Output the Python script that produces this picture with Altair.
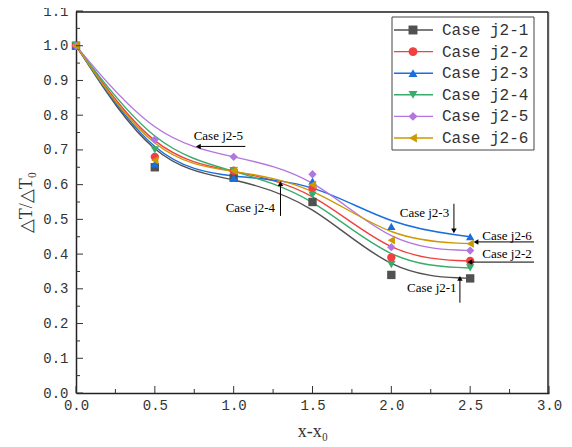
import altair as alt
import pandas as pd

# ---- data ----
x_vals = [0.0, 0.5, 1.0, 1.5, 2.0, 2.5]
series_names = ["Case j2-1", "Case j2-2", "Case j2-3", "Case j2-4", "Case j2-5", "Case j2-6"]
j2_1 = [1.0, 0.65, 0.62, 0.55, 0.34, 0.33]
j2_2 = [1.0, 0.68, 0.64, 0.59, 0.39, 0.38]
j2_3 = [1.0, 0.66, 0.62, 0.61, 0.48, 0.45]
j2_4 = [1.0, 0.70, 0.64, 0.57, 0.37, 0.36]
j2_5 = [1.0, 0.73, 0.68, 0.63, 0.42, 0.41]
j2_6 = [1.0, 0.67, 0.64, 0.60, 0.44, 0.43]
all_series = [j2_1, j2_2, j2_3, j2_4, j2_5, j2_6]

colors = ["#515151", "#F14040", "#1A6FDF", "#37AD6B", "#B177DE", "#CC9900"]
shapes = ["square", "circle", "triangle-up", "triangle-down", "diamond", "triangle-left"]

# annotations
ann_text = ["Case j2-5", "Case j2-4", "Case j2-3", "Case j2-6", "Case j2-2", "Case j2-1"]
ann_tx = [0.903, 1.106, 2.21, 2.734, 2.734, 2.257]
ann_ty = [0.739, 0.533, 0.519, 0.452, 0.400, 0.301]
arr_x1 = [1.074, 1.297, 2.397, 2.905, 2.905, 2.435]
arr_y1 = [0.710, 0.510, 0.545, 0.435, 0.377, 0.260]
arr_x2 = [0.776, 1.297, 2.397, 2.537, 2.498, 2.435]
arr_y2 = [0.710, 0.603, 0.467, 0.435, 0.377, 0.330]
arr_head = ["triangle-left", "triangle-up", "triangle-down", "triangle-left", "triangle-left", "triangle-up"]

x_major = [0, 0.5, 1.0, 1.5, 2.0, 2.5, 3.0]
x_minor = [0.25, 0.75, 1.25, 1.75, 2.25, 2.75]
y_major = [round(0.1 * i, 2) for i in range(12)]
y_minor = [round(0.05 + 0.1 * i, 2) for i in range(11)]

rows = []
for name, vals in zip(series_names, all_series):
    for xv, yv in zip(x_vals, vals):
        rows.append({"series": name, "x": xv, "y": yv})
df = pd.DataFrame(rows)
ann = pd.DataFrame({"text": ann_text, "tx": ann_tx, "ty": ann_ty,
                    "x1": arr_x1, "y1": arr_y1, "x2": arr_x2, "y2": arr_y2, "head": arr_head})
leg = pd.DataFrame({"series": series_names})

W, H = 473, 382
TICK_FONT = "Liberation Mono"
AXC = "#333333"
FRC = "#222222"

xs = alt.Scale(domain=[0, 3], nice=False)
ys = alt.Scale(domain=[0, 1.1], nice=False)
cs = alt.Scale(domain=series_names, range=colors)
ss = alt.Scale(domain=series_names, range=shapes)

xaxis = alt.Axis(values=x_major, format=".1f", title="x-x₀", grid=False, ticks=False,
                 domain=True, domainColor=FRC, domainWidth=1.5,
                 labelOverlap=False, labelFlush=False,
                 labelFont=TICK_FONT, labelFontSize=14, labelColor=AXC, labelPadding=5,
                 titleFont="Liberation Serif", titleFontSize=18, titleFontWeight="normal",
                 titleColor=AXC, titlePadding=10)
yaxis = alt.Axis(values=y_major, format=".1f", title="△T/△T₀", grid=False, ticks=False,
                 domain=True, domainColor=FRC, domainWidth=1.5,
                 labelOverlap=False, labelFlush=False,
                 labelFont=TICK_FONT, labelFontSize=14, labelColor=AXC, labelPadding=8,
                 titleFont="Liberation Serif", titleFontSize=18, titleFontWeight="normal",
                 titleColor=AXC, titlePadding=7)

def X(field):
    return alt.X(field, type="quantitative", scale=xs, axis=xaxis)

def Y(field):
    return alt.Y(field, type="quantitative", scale=ys, axis=yaxis)

base = alt.Chart(df)
lines = base.mark_line(interpolate="basis", strokeWidth=1.4).encode(
    x=X("x"), y=Y("y"),
    color=alt.Color("series:N", scale=cs, legend=None),
    detail="series:N",
)
points = base.mark_point(filled=True, size=70, opacity=1).encode(
    x=X("x"), y=Y("y"),
    color=alt.Color("series:N", scale=cs, legend=None),
    shape=alt.Shape("series:N", scale=ss, legend=None),
    order=alt.Order("series:N"),
)

abase = alt.Chart(ann)
arrow_lines = abase.mark_rule(color="black", strokeWidth=1).encode(
    x=X("x1"), y=Y("y1"), x2="x2:Q", y2="y2:Q")
arrow_heads = abase.mark_point(filled=True, color="black", size=30, opacity=1).encode(
    x=X("x2"), y=Y("y2"), shape=alt.Shape("head:N", scale=None, legend=None))
ann_labels = abase.mark_text(font="Liberation Serif", fontSize=13, color="black").encode(
    x=X("tx"), y=Y("ty"), text="text:N")

def xticks(vals, length):
    return alt.Chart(pd.DataFrame({"t": vals})).mark_rule(color=AXC, strokeWidth=1).encode(
        x=X("t"), y=alt.value(H), y2=alt.value(H - length))

def yticks(vals, length):
    return alt.Chart(pd.DataFrame({"t": vals})).mark_rule(color=AXC, strokeWidth=1).encode(
        y=Y("t"), x=alt.value(0), x2=alt.value(length))

main = alt.layer(lines, points, arrow_lines, arrow_heads, ann_labels,
                 xticks(x_major, 7), xticks(x_minor, 4), yticks(y_major, 7), yticks(y_minor, 4))

# legend built from the series list, plus the top/right frame edges
ly = alt.Y("series:N", scale=alt.Scale(type="point", domain=series_names, range=[19, 127], padding=0), axis=None)
lbase = alt.Chart(leg)
onerow = alt.Chart(pd.DataFrame({"k": ["frame"]}))
frame_top = onerow.mark_rule(color=FRC, strokeWidth=1.5).encode(
    x=alt.value(0), x2=alt.value(W - 1), y=alt.value(1))
frame_right = onerow.mark_rule(color=FRC, strokeWidth=1.5).encode(
    x=alt.value(W - 1), y=alt.value(1), y2=alt.value(H))
lbox = onerow.mark_rect(fill="white", stroke="#444444", strokeWidth=1).encode(
    x=alt.value(316), x2=alt.value(458), y=alt.value(6), y2=alt.value(139))
llines = lbase.mark_rule(strokeWidth=1.4).encode(
    x=alt.value(318), x2=alt.value(357), y=ly,
    color=alt.Color("series:N", scale=cs, legend=None))
lpts = lbase.mark_point(filled=True, size=80, opacity=1).encode(
    x=alt.value(337), y=ly,
    color=alt.Color("series:N", scale=cs, legend=None),
    shape=alt.Shape("series:N", scale=ss, legend=None))
ltext = lbase.mark_text(align="left", baseline="middle", font=TICK_FONT, fontSize=16, color=AXC).encode(
    x=alt.value(366), y=ly, text="series:N")
legend = alt.layer(frame_top, frame_right, lbox, llines, lpts, ltext)

chart = alt.layer(main, legend).resolve_scale(y="independent").properties(
    width=W, height=H,
    autosize=alt.AutoSizeParams(type="none"),
    padding={"left": 68, "top": 3, "right": 15, "bottom": 52},
).configure_view(stroke=None).configure(background="white")

chart.save("out.html", embed_options={"renderer": "svg", "actions": False})
